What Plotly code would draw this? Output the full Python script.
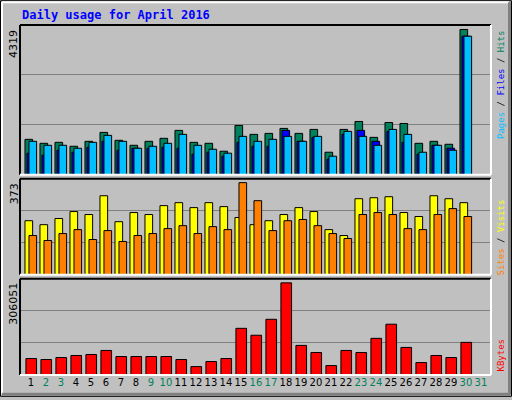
import plotly.graph_objects as go
from plotly.subplots import make_subplots

days = list(range(1, 32))
hits = [1052, 934, 963, 846, 993, 1259, 1023, 875, 993, 1082, 1318, 963, 934, 698, 1465, 1200,
        1229, 1377, 1229, 1347, 669, 1347, 1583, 1111, 1553, 1524, 934, 993, 905, 4319, 0]
files = [993, 875, 875, 787, 963, 1170, 993, 787, 846, 934, 1200, 875, 757, 640, 1141, 993,
         1052, 1141, 993, 1141, 551, 1288, 1141, 875, 1347, 1200, 669, 875, 728, 4119, 0]
pages = [640, 580, 728, 669, 817, 993, 728, 787, 787, 817, 787, 610, 669, 551, 963, 846,
         846, 1318, 993, 1111, 462, 1200, 1318, 993, 1288, 963, 610, 875, 787, 4119, 0]
visits = [219, 203, 228, 256, 244, 320, 215, 252, 244, 280, 292, 272, 292, 276, 232, 203,
          219, 244, 272, 256, 183, 159, 308, 312, 316, 252, 236, 320, 308, 292, 0]
sites = [159, 139, 167, 183, 143, 179, 135, 159, 167, 187, 199, 167, 195, 183, 373, 300,
         179, 219, 224, 199, 167, 147, 244, 252, 244, 187, 183, 244, 268, 236, 0]
kbytes = [54700, 51400, 58000, 64800, 68100, 81500, 61400, 61400, 61400, 61400, 51400, 27900,
          44700, 54700, 155000, 132000, 185000, 306051, 98300, 74800, 31300, 81500, 74800,
          121800, 168700, 91600, 41300, 64800, 58000, 108400, 0]
weekend = {2, 3, 9, 10, 16, 17, 23, 24, 30, 31}

fig = make_subplots(rows=3, cols=1, shared_xaxes=False, vertical_spacing=0)
W = 0.51
def bar(vals, off, color, w, row):
    xs = [d + off for d, v in zip(days, vals) if v > 0]
    ys = [v for v in vals if v > 0]
    fig.add_trace(go.Bar(x=xs, y=ys, width=w, marker=dict(color=color, line=dict(color="black", width=1)),
                         showlegend=False), row=row, col=1)

bar(hits, -0.143, "#00805C", W, 1)
bar(pages, -0.01, "#0000FF", W, 1)
bar(files, 0.123, "#00BFFF", W, 1)
bar(visits, -0.143, "#FFFF00", W, 2)
bar(sites, 0.123, "#FF8000", W, 2)
bar(kbytes, 0.02, "#FF0000", 0.71, 3)

ranges = [4452, 389, 319455]
ticktext = ["<span style='color:%s'>%d</span>" % ("#00805C" if d in weekend else "black", d) for d in days]
for i, R in enumerate(ranges, start=1):
    fig.update_yaxes(range=[0, R], tickvals=[R / 3, 2 * R / 3], showticklabels=False, ticks="",
                     showgrid=True, gridcolor="#808080", gridwidth=1, zeroline=False, row=i, col=1)
    fig.update_xaxes(range=[0.27, 31.67], showgrid=False, zeroline=False, ticks="",
                     showticklabels=(i == 3), tickvals=days, ticktext=ticktext, tickangle=0,
                     tickfont=dict(family="DejaVu Sans", size=10, color="black"), row=i, col=1)

def px(x): return (x - 20) / 471
def py(y): return (378 - y) / 353

fig.update_layout(yaxis=dict(domain=[py(176), 1]), yaxis2=dict(domain=[py(277), py(180)]),
                  yaxis3=dict(domain=[0, py(281)]))

shapes = []
for top, bot in [(25, 176), (180, 277), (281, 378)]:
    shapes += [
        dict(type="line", x0=px(20), x1=px(491), y0=py(top), y1=py(top), line=dict(color="black", width=2)),
        dict(type="line", x0=px(20), x1=px(20), y0=py(top), y1=py(bot), line=dict(color="black", width=2)),
        dict(type="line", x0=px(491), x1=px(491), y0=py(top), y1=py(bot), line=dict(color="white", width=2)),
        dict(type="line", x0=px(20), x1=px(491), y0=py(bot), y1=py(bot), line=dict(color="white", width=2)),
    ]
shapes += [
    dict(type="rect", x0=px(0.5), x1=px(511.5), y0=py(399.5), y1=py(0.5), line=dict(color="black", width=1)),
    dict(type="line", x0=px(2), x1=px(509), y0=py(2), y1=py(2), line=dict(color="white", width=2)),
    dict(type="line", x0=px(2), x1=px(2), y0=py(2), y1=py(397), line=dict(color="white", width=2)),
    dict(type="line", x0=px(509.5), x1=px(509.5), y0=py(2), y1=py(398), line=dict(color="#808080", width=3)),
    dict(type="line", x0=px(2), x1=px(510), y0=py(397.5), y1=py(397.5), line=dict(color="#808080", width=3)),
]
for s in shapes:
    s.update(xref="paper", yref="paper", layer="above")

mono = "DejaVu Sans Mono"
anns = [
    dict(x=px(20), y=py(15), text="<b>Daily usage for April 2016</b>", xanchor="left", yanchor="middle",
         font=dict(family=mono, size=12, color="#0000FF")),
    dict(x=px(14), y=py(28), text="4319", textangle=-90, xanchor="center", yanchor="top",
         font=dict(family="DejaVu Sans", size=11, color="black")),
    dict(x=px(14), y=py(183), text="373", textangle=-90, xanchor="center", yanchor="top",
         font=dict(family="DejaVu Sans", size=11, color="black")),
    dict(x=px(14), y=py(283), text="306051", textangle=-90, xanchor="center", yanchor="top",
         font=dict(family="DejaVu Sans", size=11, color="black")),
    dict(x=px(501), y=py(29), textangle=-90, xanchor="center", yanchor="top",
         text="<span style='color:#00BFFF'>Pages</span> / <span style='color:#0000FF'>Files</span> / <span style='color:#00805C'>Hits</span>",
         font=dict(family=mono, size=9, color="black")),
    dict(x=px(501), y=py(199), textangle=-90, xanchor="center", yanchor="top",
         text="<span style='color:#FF8000'>Sites</span> / <span style='color:#FFFF00'>Visits</span>",
         font=dict(family=mono, size=9, color="black")),
    dict(x=px(501), y=py(377), textangle=-90, xanchor="center", yanchor="bottom",
         text="KBytes", font=dict(family=mono, size=9, color="#FF0000")),
]
for a in anns:
    a.update(xref="paper", yref="paper", showarrow=False)

fig.update_layout(width=512, height=400, margin=dict(l=20, r=21, t=25, b=22),
                  paper_bgcolor="#C0C0C0", plot_bgcolor="#C0C0C0", barmode="overlay",
                  shapes=shapes, annotations=anns, showlegend=False)
fig.write_html("out.html", config={"displayModeBar": False},
               post_script="document.body.style.margin='0';document.body.style.overflow='hidden';")
